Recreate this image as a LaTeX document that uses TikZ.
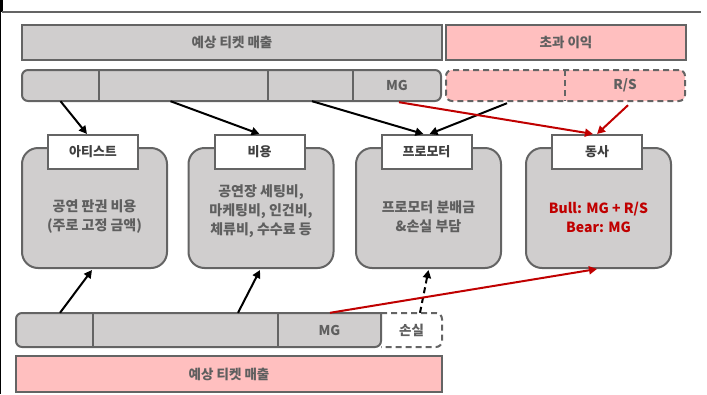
\documentclass[tikz,border=0pt]{standalone}
\usepackage{fontspec}
\setmainfont{Noto Sans CJK KR}
\usetikzlibrary{arrows.meta,calc}
\definecolor{grayf}{RGB}{208,206,206}
\definecolor{bord}{RGB}{100,100,100}
\definecolor{pinkf}{RGB}{255,191,191}
\definecolor{redc}{RGB}{192,0,0}
\definecolor{txt}{RGB}{95,95,95}
\definecolor{htxt}{RGB}{64,64,64}
\begin{document}
\begin{tikzpicture}[x=1pt,y=-1pt,
  bartxt/.style={font=\bfseries\fontsize{13.5}{15}\selectfont,text=txt},
  bigbar/.style={draw=bord,line width=2pt,fill=grayf,minimum height=35pt,inner sep=0pt,bartxt},
  pinkbar/.style={bigbar,fill=pinkf},
  segrow/.style={draw=bord,line width=2pt,fill=grayf,rounded corners=6pt,minimum height=31pt,inner sep=0pt},
  dashrow/.style={segrow,fill=pinkf,dash pattern=on 6pt off 4pt},
  seg/.style={minimum height=31pt,inner sep=0pt,bartxt},
  divider/.style={draw=bord,line width=2pt},
  bodybox/.style={draw=bord,line width=2pt,fill=grayf,rounded corners=16pt,minimum width=145pt,minimum height=120pt,inner sep=0pt},
  hdr/.style={draw=bord,line width=2pt,fill=white,minimum width=90pt,minimum height=34pt,inner sep=0pt,font=\bfseries\fontsize{13}{15}\selectfont,text=htxt},
  body/.style={align=center,font=\bfseries\fontsize{14}{19}\selectfont,text=txt},
  arr/.style={line width=2pt,-{Triangle[length=8pt,width=8pt]}},
  redarr/.style={arr,draw=redc,-{Triangle[length=8pt,width=8pt]},color=redc}
]
\useasboundingbox (0,0) rectangle (707,394);
% frame lines
\draw[line width=3pt,black] (1,0) -- (1,12);
\draw[line width=1pt,black] (0.5,12) -- (0.5,394);
\draw[line width=1.5pt,bord] (2,12) -- (701,12);

% top bars
\node[bigbar,minimum width=420pt] (top) at (232,42.5) {예상 티켓 매출};
\node[pinkbar,minimum width=240pt] (excess) at (566,42.5) {초과 이익};

% second row
\node[segrow,minimum width=419pt] (row2) at (231.5,85.5) {};
\draw[divider] (99,70) -- (99,101);
\draw[divider] (268,70) -- (268,101);
\draw[divider] (353,70) -- (353,101);
\node[seg,minimum width=77pt] (s1) at (60.5,85.5) {};
\node[seg,minimum width=169pt] (s2) at (183.5,85.5) {};
\node[seg,minimum width=85pt] (s3) at (310.5,85.5) {};
\node[seg,minimum width=88pt] (smg) at (397,85.5) {MG};
\node[dashrow,minimum width=239pt] (row2p) at (565.5,85.5) {};
\draw[divider,dash pattern=on 6pt off 4pt] (565,70) -- (565,101);
\node[seg,minimum width=119pt] (sp) at (505.5,85.5) {};
\node[seg,minimum width=120pt] (srs) at (625,85.5) {R/S};

% body boxes
\node[bodybox] (bA) at (94.5,208) {};
\node[bodybox] (bC) at (261,208) {};
\node[bodybox] (bP) at (428.5,208) {};
\node[bodybox] (bD) at (598.5,208) {};
\node[hdr] (hA) at (93,152) {아티스트};
\node[hdr] (hC) at (259.5,152) {비용};
\node[hdr] (hP) at (426.5,152) {프로모터};
\node[hdr] (hD) at (597,152) {동사};
\node[body] (tA) at (94.5,217) {공연 판권 비용\\(주로 고정 금액)};
\node[body] (tC) at (261,211) {공연장 세팅비,\\마케팅비, 인건비,\\체류비, 수수료 등};
\node[body] (tP) at (428.5,217) {프로모터 분배금\\\&손실 부담};
\node[body,text=redc] (tD) at (598.5,217) {Bull: MG + R/S\\Bear: MG};

% bottom row
\draw[line width=2pt,draw=bord,fill=white,dash pattern=on 6pt off 4pt]
  (381,313) [rounded corners=6pt] -- (442,313) -- (442,347) -- (381,347);
\draw[line width=2pt,draw=bord,fill=grayf]
  (200,313) [rounded corners=6pt] -- (16,313) -- (16,347) -- (381,347) [sharp corners] -- (381,313) -- cycle;
\draw[divider] (93,313) -- (93,347);
\draw[divider] (278,313) -- (278,347);
\node[seg,minimum width=77pt,minimum height=34pt] (b1) at (54.5,330) {};
\node[seg,minimum width=185pt,minimum height=34pt] (b2) at (185.5,330) {};
\node[seg,minimum width=103pt,minimum height=34pt] (bmg) at (329.5,330) {MG};
\node[seg,minimum width=61pt,minimum height=34pt] (bloss) at (411.5,330) {손실};
\node[pinkbar,minimum width=426pt,minimum height=36pt] (bottom) at (229,374) {예상 티켓 매출};

% arrows top
\draw[arr] (s1.south) -- ($(hA.north)+(-6,0)$);
\draw[arr] ($(s2.south)+(-13,0)$) -- (hC.north);
\draw[arr] ($(s3.south)+(1.5,0)$) -- ($(hP.north)+(-3,0)$);
\draw[arr] ($(sp.south)+(1.5,2)$) -- ($(hP.north)+(3,0)$);
\draw[redarr] ($(smg.south)+(2,1)$) -- ($(hD.north)+(-4,0)$);
\draw[redarr] ($(srs.south)+(3,4)$) -- (hD.north);

% arrows bottom
\draw[arr] ($(b1.north)+(5.5,0)$) -- ($(bA.south)+(-2.5,1)$);
\draw[arr] ($(b2.north)+(52.5,0)$) -- ($(bC.south)+(-1,1)$);
\draw[arr,dash pattern=on 6pt off 4pt] ($(bloss.north)+(8.5,0)$) -- ($(bP.south)+(0,1)$);
\draw[redarr] ($(bmg.north)+(0.5,0)$) -- ($(bD.south)+(-1.5,0)$);
\end{tikzpicture}
\end{document}
